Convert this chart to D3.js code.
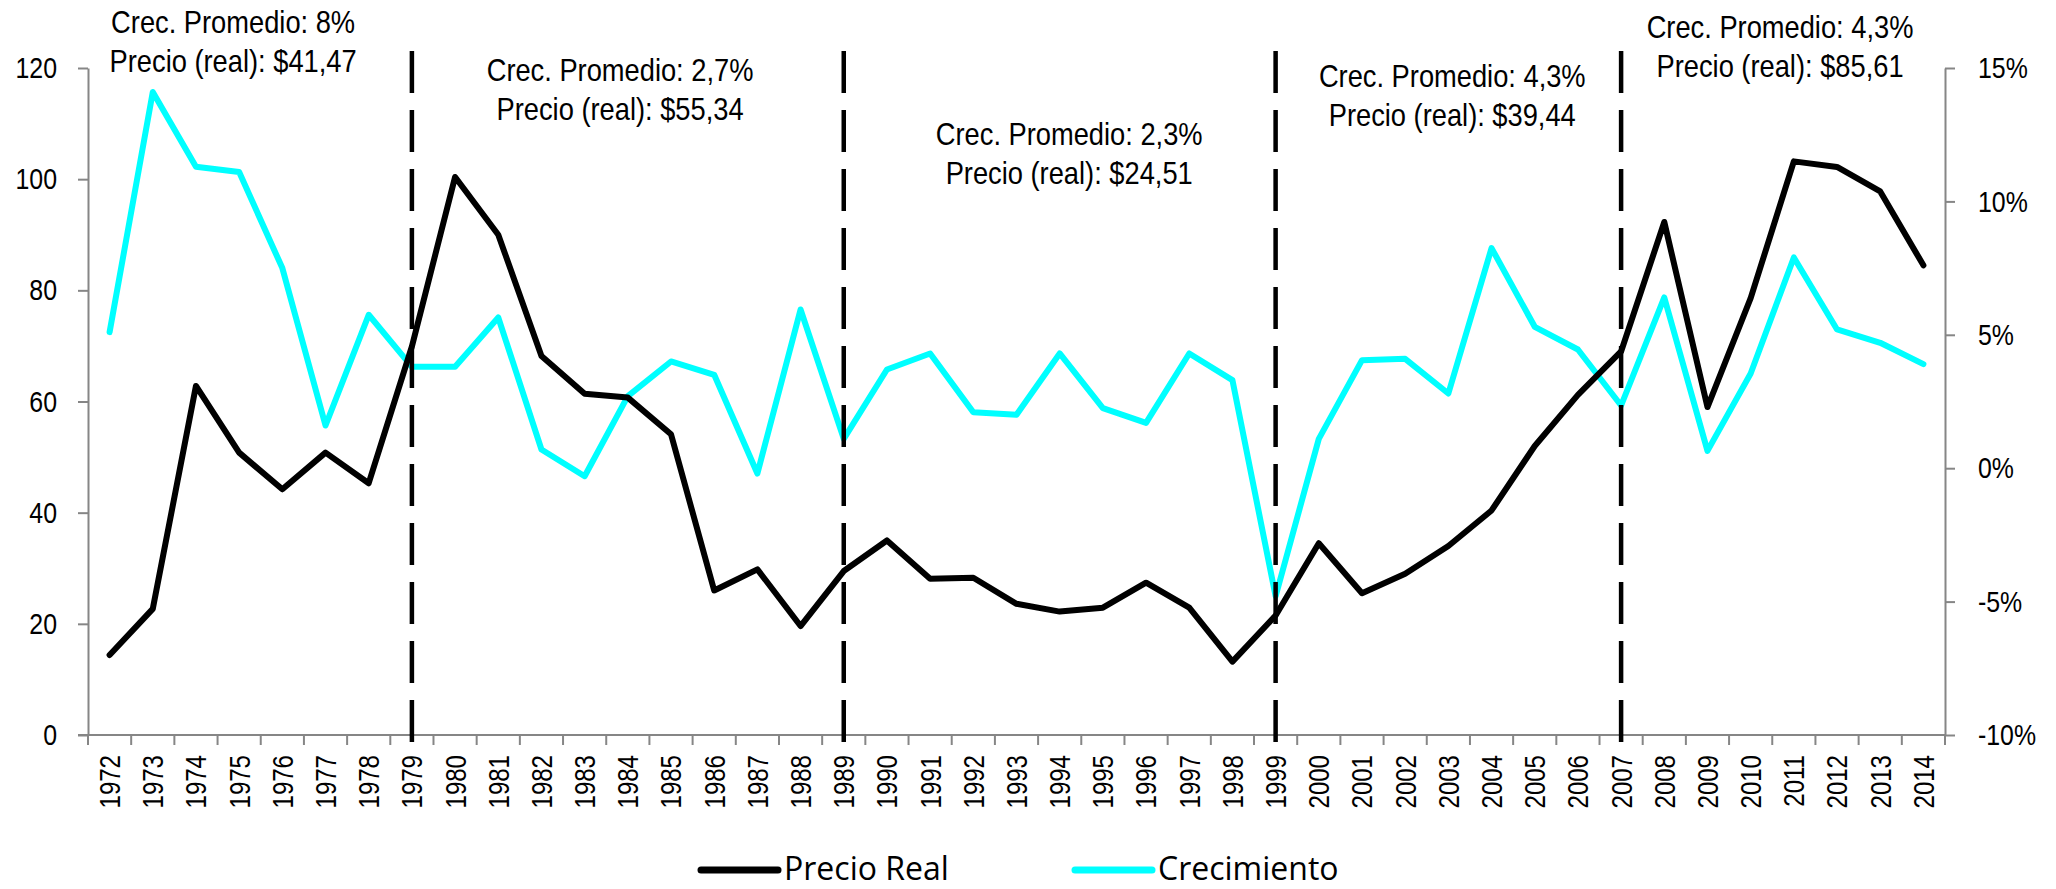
<!DOCTYPE html>
<html><head><meta charset="utf-8">
<script src="https://cdn.jsdelivr.net/npm/d3@7"></script>
<style>
html,body{margin:0;padding:0;background:#fff;}
svg{display:block;}
</style></head><body>
<svg id="chart" width="2056" height="889"></svg>
<script>
const years = [1972,1973,1974,1975,1976,1977,1978,1979,1980,1981,1982,1983,1984,1985,1986,1987,1988,1989,1990,1991,1992,1993,1994,1995,1996,1997,1998,1999,2000,2001,2002,2003,2004,2005,2006,2007,2008,2009,2010,2011,2012,2013,2014];
const precioReal = [14.4,22.7,62.8,50.8,44.2,50.8,45.3,69.9,100.4,90.0,68.2,61.4,60.7,54.1,26.0,29.8,19.6,29.5,35.0,28.1,28.3,23.6,22.2,22.9,27.4,22.9,13.2,21.5,34.5,25.5,29.0,34.0,40.4,52.0,61.2,69.0,92.3,59.0,78.6,103.2,102.2,97.8,84.5];
const crecimiento = [5.1,14.1,11.3,11.1,7.5,1.6,5.75,3.8,3.8,5.65,0.7,-0.3,2.7,4.0,3.5,-0.2,5.95,1.1,3.7,4.3,2.1,2.0,4.3,2.25,1.7,4.3,3.3,-4.8,1.1,4.05,4.1,2.8,8.25,5.3,4.45,2.35,6.4,0.65,3.55,7.9,5.2,4.7,3.9];
const leftTicks = [0,20,40,60,80,100,120];
const rightTicks = [-10,-5,0,5,10,15];
const breakYears = [1979,1989,1999,2007];
const annoLine1 = ["Crec. Promedio: 8%","Crec. Promedio: 2,7%","Crec. Promedio: 2,3%","Crec. Promedio: 4,3%","Crec. Promedio: 4,3%"];
const annoLine2 = ["Precio (real): $41,47","Precio (real): $55,34","Precio (real): $24,51","Precio (real): $39,44","Precio (real): $85,61"];
const annoYear = [1974.86,1983.82,1994.22,2003.09,2010.68];
const annoBase = [33,81,145,87,38];
const legendNames = ["Precio Real","Crecimiento"];
const colors = ["#000000","#00FFFF"];

const svg = d3.select("#chart");
const L = 88, R = 1945, T = 68, B = 735;
const font = "'Liberation Sans',Arial,sans-serif";
const axisColor = "#868686";
const SX = 0.83;   // horizontal condensing to mimic a narrow face
const SXA = 0.88;

const x = d3.scaleBand().domain(years).range([L, R]).padding(0);
const bw = x.bandwidth();
const cx = d => x(d) + bw / 2;
const xl = d3.scaleLinear().domain([years[0], years[years.length-1]]).range([cx(years[0]), cx(years[years.length-1])]);
const yL = d3.scaleLinear().domain([0,120]).range([B, T]);
const yR = d3.scaleLinear().domain([-10,15]).range([B, T]);

// Left axis
const gL = svg.append("g").attr("transform", `translate(${L},0)`)
  .call(d3.axisLeft(yL).tickValues(leftTicks).tickSize(10).tickSizeOuter(0).tickPadding(21));
// Right axis
const gR = svg.append("g").attr("transform", `translate(${R},0)`)
  .call(d3.axisRight(yR).tickValues(rightTicks).tickFormat(d => d + "%").tickSize(10).tickSizeOuter(0).tickPadding(23));
// Bottom axis
const gB = svg.append("g").attr("transform", `translate(0,${B})`)
  .call(d3.axisBottom(x).tickSize(0).tickSizeOuter(0));
gB.selectAll(".tick text")
  .attr("transform", `rotate(-90) scale(${SX},1)`)
  .attr("x", -20 / SX).attr("y", 0).attr("dy", "0.36em")
  .style("text-anchor", "end");
gB.selectAll(".boundary").data(d3.range(years.length + 1)).enter().append("line")
  .attr("class", "boundary")
  .attr("x1", i => L + i * bw).attr("x2", i => L + i * bw)
  .attr("y1", 0).attr("y2", 10);

[gL, gR].forEach(g => {
  g.selectAll(".tick text").each(function() {
    const t = d3.select(this);
    t.attr("x", +t.attr("x") / SX).attr("transform", `scale(${SX},1)`);
  });
});

[gL, gR, gB].forEach(g => {
  g.selectAll("path.domain").attr("stroke", axisColor).attr("stroke-width", 2);
  g.selectAll("line").attr("stroke", axisColor).attr("stroke-width", 2);
  g.selectAll("text").attr("font-family", font).attr("fill", "#000");
});
gL.selectAll("text").attr("font-size", 30);
gR.selectAll("text").attr("font-size", 30);
gB.selectAll("text").attr("font-size", 29);
gB.select("path.domain").attr("d", `M${L-10},0H${R}`);

// Lines
const lineL = d3.line().x((d,i) => cx(years[i])).y(d => yL(d));
const lineR = d3.line().x((d,i) => cx(years[i])).y(d => yR(d));
svg.append("path").datum(crecimiento).attr("d", lineR)
  .attr("fill", "none").attr("stroke", colors[1]).attr("stroke-width", 6)
  .attr("stroke-linejoin", "round").attr("stroke-linecap", "round");
svg.append("path").datum(precioReal).attr("d", lineL)
  .attr("fill", "none").attr("stroke", colors[0]).attr("stroke-width", 6)
  .attr("stroke-linejoin", "round").attr("stroke-linecap", "round");

// Dashed period separators
svg.selectAll(".sep").data(breakYears).enter().append("line")
  .attr("class", "sep")
  .attr("x1", d => cx(d)).attr("x2", d => cx(d))
  .attr("y1", B + 7).attr("y2", 42)
  .attr("stroke", "#000").attr("stroke-width", 4.5)
  .attr("stroke-dasharray", "42,17");

// Annotations
const ga = svg.append("g").attr("font-family", font).attr("font-size", 31).attr("fill", "#000").attr("text-anchor", "middle");
annoLine1.forEach((t, i) => {
  const ax = xl(annoYear[i]);
  ga.append("text").attr("transform", `translate(${ax},${annoBase[i]}) scale(${SXA},1)`).text(t);
  ga.append("text").attr("transform", `translate(${ax},${annoBase[i] + 39}) scale(${SXA},1)`).text(annoLine2[i]);
});

// Legend
const legX = [701, 1075];
const gl = svg.append("g");
legendNames.forEach((n, i) => {
  gl.append("line").attr("x1", legX[i]).attr("x2", legX[i] + 77).attr("y1", 870).attr("y2", 870)
    .attr("stroke", colors[i]).attr("stroke-width", 7).attr("stroke-linecap", "round");
  gl.append("text").attr("x", legX[i] + 83).attr("y", 880)
    .attr("font-family", "'Open Sans',Carlito,Calibri,sans-serif").attr("font-size", 32).attr("fill", "#000")
    .text(n);
});
</script>
</body></html>
